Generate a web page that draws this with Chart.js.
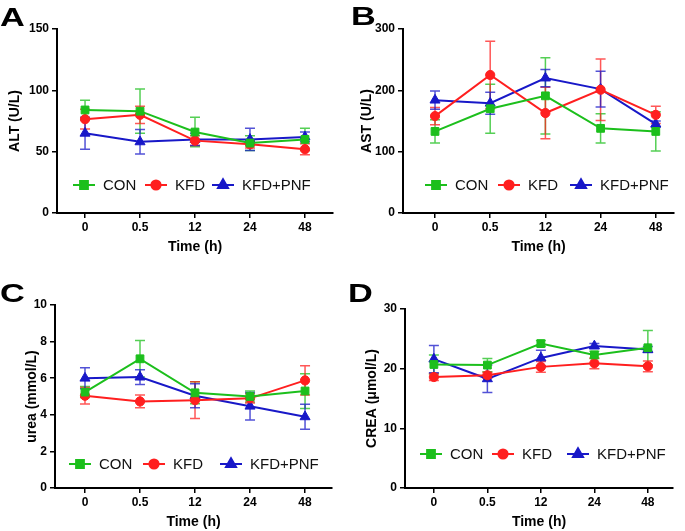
<!DOCTYPE html>
<html><head><meta charset="utf-8">
<script src="https://cdn.jsdelivr.net/npm/chart.js@4.4.1/dist/chart.umd.min.js"></script>
<style>
html,body{margin:0;padding:0;background:#fff;}
.p{position:absolute;}
</style></head><body>
<div class="p" style="left:0;top:0;width:340px;height:265px"><canvas id="cA"></canvas></div>
<div class="p" style="left:340px;top:0;width:345px;height:265px"><canvas id="cB"></canvas></div>
<div class="p" style="left:0;top:265px;width:340px;height:266px"><canvas id="cC"></canvas></div>
<div class="p" style="left:340px;top:265px;width:345px;height:266px"><canvas id="cD"></canvas></div>
<script>
// ---- data ----
const timeLabels = ['0', '0.5', '12', '24', '48'];
const seriesNames = ['CON', 'KFD', 'KFD+PNF'];

const altCON = [84, 83, 66, 57, 60];
const altCONsd = [8, 18, 12, 6, 9];
const altKFD = [76.5, 80, 59, 56, 52];
const altKFDsd = [8, 7, 4, 3, 4.5];
const altPNF = [65, 58, 60, 60, 62];
const altPNFsd = [13, 10, 5, 9, 4];

const astCON = [133, 170, 191, 138, 133];
const astCONsd = [19, 40, 62, 24, 32];
const astKFD = [158, 225, 163, 201, 160];
const astKFDsd = [14, 55, 42, 50, 14];
const astPNF = [184, 179, 220, 202, 145];
const astPNFsd = [15, 18, 14, 29, 5];

const ureaCON = [5.24, 7.06, 5.2, 5.0, 5.3];
const ureaCONsd = [0.3, 1.0, 0.6, 0.3, 0.95];
const ureaKFD = [5.04, 4.73, 4.8, 4.9, 5.88];
const ureaKFDsd = [0.45, 0.35, 1.0, 0.25, 0.8];
const ureaPNF = [6.0, 6.06, 5.04, 4.47, 3.89];
const ureaPNFsd = [0.57, 0.4, 0.65, 0.75, 0.68];

const creaCON = [20.7, 20.6, 24.2, 22.3, 23.5];
const creaCONsd = [1.6, 1.1, 0.5, 0.6, 2.9];
const creaKFD = [18.6, 18.9, 20.3, 20.9, 20.4];
const creaKFDsd = [0.6, 0.5, 0.9, 0.9, 0.9];
const creaPNF = [21.6, 18.3, 21.8, 23.8, 23.2];
const creaPNFsd = [2.3, 2.3, 1.3, 0.4, 0.5];

const yTicksA = [0, 50, 100, 150];
const yTicksB = [0, 100, 200, 300];
const yTicksC = [0, 2, 4, 6, 8, 10];
const yTicksD = [0, 10, 20, 30];

// ---- style ----
const FONT = "'Liberation Sans', Arial, Helvetica, sans-serif";
const COLORS = ['#1cbf1c', '#ff1f1f', '#1818c8'];
const ERRCOLORS = ['rgba(28,191,28,0.75)', 'rgba(255,31,31,0.75)', 'rgba(24,24,200,0.75)'];
const STYLES = ['rect', 'circle', 'triangle'];
const RADII = [5.5, 4.6, 5.8];

const errorBars = {
  id: 'errorBars',
  beforeDatasetsDraw(chart) {
    const ctx = chart.ctx, ys = chart.scales.y;
    ctx.save();
    chart.data.datasets.forEach((ds, di) => {
      const meta = chart.getDatasetMeta(di);
      ctx.strokeStyle = ERRCOLORS[di];
      ctx.lineWidth = 1.5;
      meta.data.forEach((pt, i) => {
        const v = ds.data[i].y, e = ds.sd[i];
        const yT = ys.getPixelForValue(v + e), yB = ys.getPixelForValue(v - e);
        ctx.beginPath();
        ctx.moveTo(pt.x, yT); ctx.lineTo(pt.x, yB);
        ctx.moveTo(pt.x - 5, yT); ctx.lineTo(pt.x + 5, yT);
        ctx.moveTo(pt.x - 5, yB); ctx.lineTo(pt.x + 5, yB);
        ctx.stroke();
      });
    });
    ctx.restore();
  }
};

const inLegend = {
  id: 'inLegend',
  afterDraw(chart, args, opts) {
    const ctx = chart.ctx, L = chart.chartArea.left;
    ctx.save();
    chart.data.datasets.forEach((ds, di) => {
      const x0 = L + opts.xs[di], y = opts.y;
      ctx.strokeStyle = COLORS[di]; ctx.lineWidth = 2;
      ctx.beginPath(); ctx.moveTo(x0, y); ctx.lineTo(x0 + 22, y); ctx.stroke();
      ctx.fillStyle = COLORS[di];
      Chart.helpers.drawPoint(ctx, {pointStyle: STYLES[di], radius: RADII[di], borderWidth: 1, rotation: 0}, x0 + 11, y);
      ctx.fillStyle = '#111';
      ctx.font = '15px ' + FONT;
      ctx.textBaseline = 'middle';
      ctx.fillText(ds.label, x0 + 30, y + 1);
    });
    ctx.restore();
  }
};

const panelLetter = {
  id: 'panelLetter',
  afterDraw(chart, args, opts) {
    const ctx = chart.ctx;
    ctx.save();
    ctx.translate(opts.x, opts.y);
    ctx.scale(1.32, 1);
    ctx.font = 'bold 26px ' + FONT;
    ctx.fillStyle = '#000';
    ctx.textBaseline = 'alphabetic';
    ctx.fillText(opts.text, 0, 0);
    ctx.restore();
  }
};

function makePanel(id, cfg) {
  const vals = cfg.values, sds = cfg.sds;
  const datasets = seriesNames.map((name, di) => ({
    label: name,
    data: vals[di].map((v, i) => ({x: i, y: v})),
    sd: sds[di],
    borderColor: COLORS[di],
    backgroundColor: COLORS[di],
    pointBackgroundColor: COLORS[di],
    pointBorderColor: COLORS[di],
    pointStyle: STYLES[di],
    pointRadius: RADII[di],
    pointBorderWidth: 1,
    borderWidth: 2,
    tension: 0,
    fill: false
  }));
  const titleOff = 8.4;
  const xH = 34 + titleOff;
  new Chart(document.getElementById(id), {
    type: 'line',
    data: {datasets},
    plugins: [errorBars, inLegend, panelLetter],
    options: {
      responsive: true,
      maintainAspectRatio: false,
      animation: false,
      layout: {padding: {left: cfg.titleX - titleOff, top: cfg.area.t, right: cfg.W - cfg.area.r, bottom: cfg.H - cfg.area.b - xH}},
      plugins: {
        legend: {display: false},
        tooltip: {enabled: false},
        inLegend: {y: cfg.legY, xs: cfg.legXs},
        panelLetter: {text: cfg.letter, x: cfg.letterX, y: cfg.letterY}
      },
      scales: {
        x: {
          type: 'linear',
          min: cfg.xMin, max: cfg.xMax,
          afterFit(s) { s.height = xH; },
          afterBuildTicks(s) { s.ticks = timeLabels.map((_, i) => ({value: i})); },
          ticks: {
            color: '#000', font: {family: FONT, size: 12, weight: 'bold'}, padding: 2,
            autoSkip: false, maxRotation: 0,
            callback: (v) => timeLabels[v]
          },
          grid: {drawOnChartArea: false, drawTicks: true, tickLength: 5, color: '#000', lineWidth: 1.5},
          border: {display: true, color: '#000', width: 2},
          title: {display: true, text: 'Time (h)', color: '#000', font: {family: FONT, size: 14, weight: 'bold'}, padding: 0}
        },
        y: {
          type: 'linear',
          min: cfg.yTicks[0], max: cfg.yTicks[cfg.yTicks.length - 1],
          afterFit(s) { s.width = cfg.area.l - (cfg.titleX - titleOff); },
          afterBuildTicks(s) { s.ticks = cfg.yTicks.map(v => ({value: v})); },
          ticks: {color: '#000', font: {family: FONT, size: 12, weight: 'bold'}, padding: 3},
          grid: {drawOnChartArea: false, drawTicks: true, tickLength: 5, color: '#000', lineWidth: 1.5},
          border: {display: true, color: '#000', width: 2},
          title: {display: true, text: cfg.yTitle, color: '#000', font: {family: FONT, size: 14, weight: 'bold'}, padding: 0}
        }
      }
    }
  });
}

makePanel('cA', {W: 340, H: 265, area: {l: 57, r: 333, t: 29, b: 213}, xMin: -0.51, xMax: 4.51,
  yTicks: yTicksA, yTitle: 'ALT (U/L)', titleX: 15, letter: 'A', letterX: 0, letterY: 26,
  legY: 185, legXs: [16, 88, 155],
  values: [altCON, altKFD, altPNF], sds: [altCONsd, altKFDsd, altPNFsd]});
makePanel('cB', {W: 345, H: 265, area: {l: 63, r: 334, t: 29, b: 213}, xMin: -0.58, xMax: 4.33,
  yTicks: yTicksB, yTitle: 'AST (U/L)', titleX: 27, letter: 'B', letterX: 11, letterY: 25,
  legY: 185, legXs: [22, 95, 167],
  values: [astCON, astKFD, astPNF], sds: [astCONsd, astKFDsd, astPNFsd]});
makePanel('cC', {W: 340, H: 266, area: {l: 55, r: 332, t: 40, b: 223}, xMin: -0.545, xMax: 4.49,
  yTicks: yTicksC, yTitle: 'urea (mmol/L)', titleX: 32, letter: 'C', letterX: 0, letterY: 37,
  legY: 199, legXs: [14, 88, 165],
  values: [ureaCON, ureaKFD, ureaPNF], sds: [ureaCONsd, ureaKFDsd, ureaPNFsd]});
makePanel('cD', {W: 345, H: 266, area: {l: 65, r: 333, t: 44, b: 223}, xMin: -0.54, xMax: 4.47,
  yTicks: yTicksD, yTitle: 'CREA (\u03bcmol/L)', titleX: 32, letter: 'D', letterX: 8, letterY: 37,
  legY: 189, legXs: [15, 87, 162],
  values: [creaCON, creaKFD, creaPNF], sds: [creaCONsd, creaKFDsd, creaPNFsd]});
</script>
</body></html>
